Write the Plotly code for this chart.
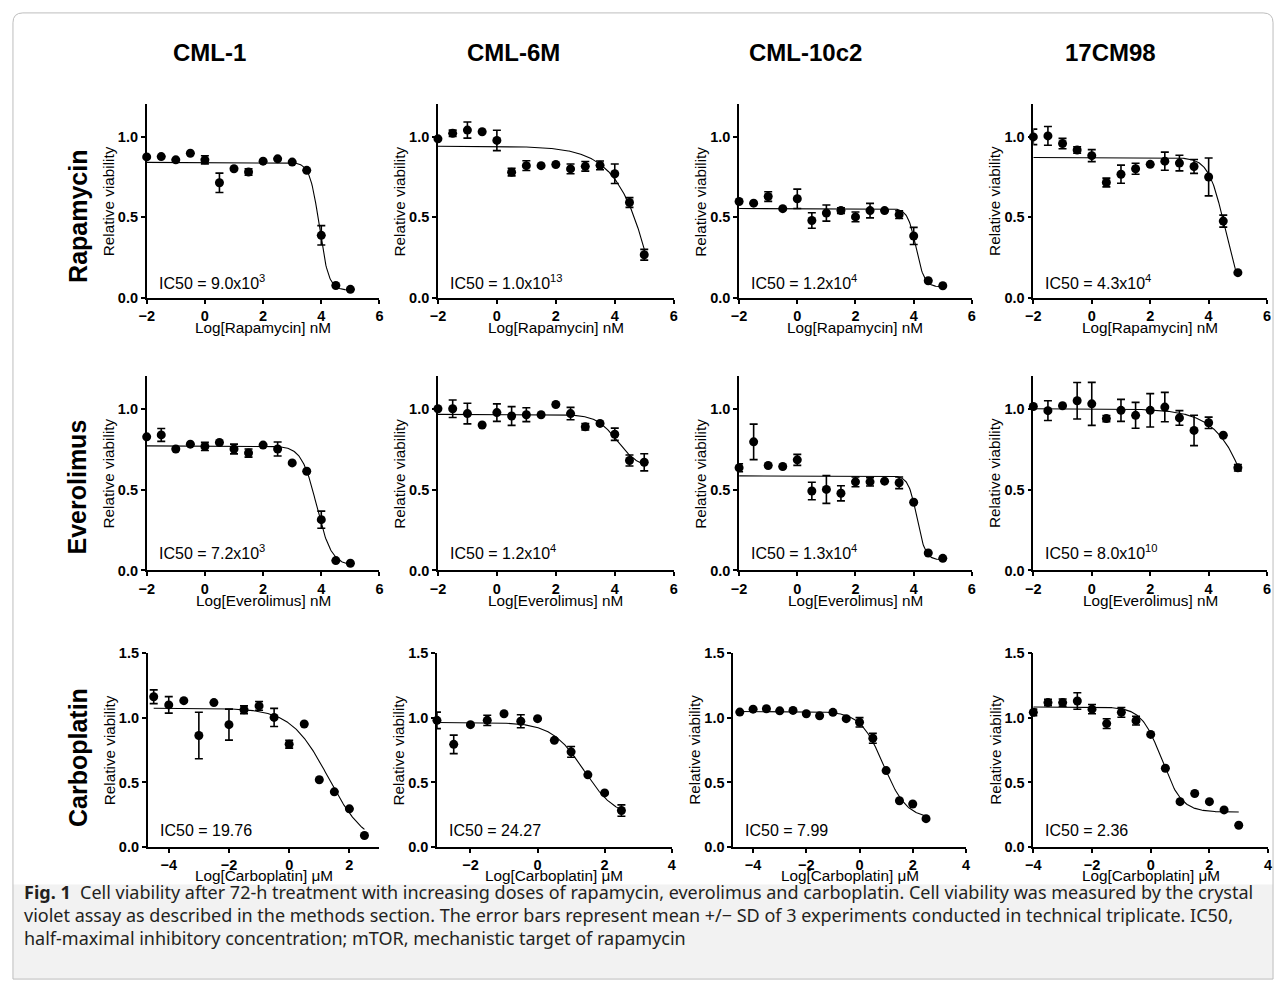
import numpy as np
import plotly.graph_objects as go

W, H = 1282, 991

cell_lines = ["CML-1", "CML-6M", "CML-10c2", "17CM98"]
drugs = ["Rapamycin", "Everolimus", "Carboplatin"]
x_titles = ["Log[Rapamycin] nM", "Log[Everolimus] nM", "Log[Carboplatin] \u03bcM"]

mtor_x = [-2, -1.5, -1, -0.5, 0, 0.5, 1, 1.5, 2, 2.5, 3, 3.5, 4, 4.5, 5]
carb_x_cml1 = [-4.5, -4, -3.5, -3, -2.5, -2, -1.5, -1, -0.5, 0, 0.5, 1, 1.5, 2, 2.5]
carb_x_cml6m = [-3, -2.5, -2, -1.5, -1, -0.5, 0, 0.5, 1, 1.5, 2, 2.5]
carb_x_cml10c2 = [-4.5, -4, -3.5, -3, -2.5, -2, -1.5, -1, -0.5, 0, 0.5, 1, 1.5, 2, 2.5]
carb_x_17cm98 = [-4, -3.5, -3, -2.5, -2, -1.5, -1, -0.5, 0, 0.5, 1, 1.5, 2, 2.5, 3]

rap_cml1_y = [0.874, 0.876, 0.856, 0.897, 0.856, 0.714, 0.801, 0.781, 0.848, 0.862, 0.842, 0.791, 0.389, 0.079, 0.055]
rap_cml1_sd = [0, 0, 0, 0, 0.025, 0.06, 0, 0.02, 0, 0, 0, 0, 0.06, 0, 0]
rap_cml6m_y = [0.986, 1.02, 1.04, 1.03, 0.976, 0.78, 0.82, 0.82, 0.827, 0.80, 0.816, 0.822, 0.77, 0.592, 0.269]
rap_cml6m_sd = [0, 0.02, 0.05, 0, 0.063, 0.023, 0.03, 0, 0, 0.03, 0.03, 0.027, 0.06, 0.03, 0.033]
rap_cml10c2_y = [0.598, 0.588, 0.629, 0.554, 0.615, 0.481, 0.527, 0.542, 0.503, 0.542, 0.542, 0.517, 0.385, 0.108, 0.077]
rap_cml10c2_sd = [0, 0, 0.03, 0, 0.06, 0.048, 0.05, 0.018, 0.03, 0.045, 0, 0.024, 0.053, 0, 0]
rap_17cm98_y = [0.998, 1.004, 0.957, 0.917, 0.882, 0.716, 0.767, 0.801, 0.828, 0.848, 0.836, 0.815, 0.750, 0.477, 0.158]
rap_17cm98_sd = [0.048, 0.058, 0.032, 0.02, 0.037, 0.027, 0.056, 0.034, 0, 0.056, 0.048, 0.043, 0.117, 0.037, 0]

eve_cml1_y = [0.826, 0.838, 0.751, 0.781, 0.767, 0.791, 0.751, 0.726, 0.775, 0.751, 0.665, 0.613, 0.314, 0.061, 0.045]
eve_cml1_sd = [0, 0.04, 0, 0, 0.025, 0, 0.03, 0.025, 0, 0.043, 0, 0, 0.053, 0, 0]
eve_cml6m_y = [1.0, 1.0, 0.970, 0.899, 0.976, 0.955, 0.963, 0.963, 1.026, 0.970, 0.888, 0.909, 0.842, 0.680, 0.669]
eve_cml6m_sd = [0, 0.054, 0.064, 0, 0.054, 0.058, 0.043, 0, 0, 0.038, 0.02, 0, 0.038, 0.034, 0.053]
eve_cml10c2_y = [0.635, 0.795, 0.649, 0.643, 0.684, 0.491, 0.501, 0.477, 0.548, 0.548, 0.552, 0.542, 0.422, 0.108, 0.075]
eve_cml10c2_sd = [0.025, 0.11, 0, 0, 0.034, 0.054, 0.086, 0.047, 0.03, 0.026, 0, 0.036, 0, 0, 0]
eve_17cm98_y = [1.014, 0.988, 1.018, 1.049, 1.030, 0.939, 0.990, 0.959, 0.990, 1.010, 0.943, 0.866, 0.913, 0.836, 0.635]
eve_17cm98_sd = [0, 0.061, 0, 0.113, 0.133, 0.019, 0.068, 0.08, 0.103, 0.091, 0.045, 0.094, 0.035, 0, 0.02]

carb_cml1_y = [1.164, 1.101, 1.134, 0.864, 1.119, 0.948, 1.063, 1.093, 1.004, 0.796, 0.953, 0.521, 0.427, 0.295, 0.089]
carb_cml1_sd = [0.053, 0.064, 0, 0.18, 0, 0.12, 0.03, 0.034, 0.07, 0.03, 0, 0, 0, 0, 0]
carb_cml6m_y = [0.981, 0.795, 0.948, 0.981, 1.032, 0.974, 0.994, 0.826, 0.737, 0.559, 0.419, 0.282]
carb_cml6m_sd = [0.064, 0.072, 0, 0.04, 0, 0.05, 0, 0, 0.042, 0, 0, 0.044]
carb_cml10c2_y = [1.045, 1.068, 1.071, 1.055, 1.058, 1.032, 1.017, 1.043, 0.994, 0.966, 0.842, 0.592, 0.358, 0.333, 0.219]
carb_cml10c2_sd = [0, 0, 0, 0, 0, 0, 0, 0, 0, 0.036, 0.038, 0, 0, 0, 0]
carb_17cm98_y = [1.043, 1.119, 1.119, 1.131, 1.068, 0.956, 1.043, 0.979, 0.872, 0.610, 0.351, 0.414, 0.351, 0.287, 0.168]
carb_17cm98_sd = [0.025, 0.025, 0.028, 0.064, 0.036, 0.038, 0.038, 0.034, 0, 0, 0, 0, 0, 0, 0]

# fitted 4-parameter logistic curves: (top, bottom, log-midpoint, hill, x start, x end)
fit_rap = [(0.84, 0.05, 3.93, 2.7, -2, 5), (0.94, -3.0, 6.3, 0.55, -2, 5),
           (0.555, 0.07, 4.08, 3.0, -2, 5), (0.87, 0.0, 4.55, 1.6, -2, 5)]
fit_eve = [(0.77, 0.03, 3.84, 1.7, -2, 5), (0.965, 0.63, 4.1, 1.2, -2, 5),
           (0.585, 0.065, 4.11, 3.0, -2, 5), (1.0, -3.0, 6.74, 0.58, -2, 5)]
fit_carb = [(1.075, 0.0, 1.30, 0.7, -4.5, 2.5), (0.965, 0.22, 1.385, 0.9, -3, 2.5),
            (1.05, 0.22, 0.903, 1.0, -4.5, 2.5), (1.085, 0.27, 0.373, 1.27, -4, 3)]

ic50_rap = ["IC50 = 9.0x10<sup>3</sup>", "IC50 = 1.0x10<sup>13</sup>", "IC50 = 1.2x10<sup>4</sup>", "IC50 = 4.3x10<sup>4</sup>"]
ic50_eve = ["IC50 = 7.2x10<sup>3</sup>", "IC50 = 1.2x10<sup>4</sup>", "IC50 = 1.3x10<sup>4</sup>", "IC50 = 8.0x10<sup>10</sup>"]
ic50_carb = ["IC50 = 19.76", "IC50 = 24.27", "IC50 = 7.99", "IC50 = 2.36"]

x_ranges_mtor = [[-2, 6]] * 4
x_ranges_carb = [[-4.7, 3.0], [-3, 4], [-4.75, 4], [-4, 4]]

caption_lines = [
    "<b>Fig. 1</b>  Cell viability after 72-h treatment with increasing doses of rapamycin, everolimus and carboplatin. Cell viability was measured by the crystal",
    "violet assay as described in the methods section. The error bars represent mean +/\u2212 SD of 3 experiments conducted in technical triplicate. IC50,",
    "half-maximal inhibitory concentration; mTOR, mechanistic target of rapamycin",
]

col_px = [[(140, 375), (434, 672), (738, 973), (1035, 1271)],
          [(140, 375), (434, 672), (738, 973), (1035, 1271)],
          [(141, 375), (433, 670), (732, 967), (1035, 1272)]]
row_px = [(97.8, 295), (374.4, 571.7), (656, 852.7)]
y_ranges = [[0, 1.2], [0, 1.2], [0, 1.5]]
y_ticks = [[0, 0.5, 1.0], [0, 0.5, 1.0], [0, 0.5, 1.0, 1.5]]
x_title_y = [325, 602, 882]
ic50_y = [278, 553, 836]
col_title_x = [203, 510, 805, 1113]
row_label_y = [212, 487, 762]
cap_y = [899, 922, 945]

def px(xp):
    return xp / W

def py(yp):
    return 1 - yp / H

FONT = "Liberation Sans, Arial, sans-serif"

data_rows = [
    [(mtor_x, rap_cml1_y, rap_cml1_sd), (mtor_x, rap_cml6m_y, rap_cml6m_sd),
     (mtor_x, rap_cml10c2_y, rap_cml10c2_sd), (mtor_x, rap_17cm98_y, rap_17cm98_sd)],
    [(mtor_x, eve_cml1_y, eve_cml1_sd), (mtor_x, eve_cml6m_y, eve_cml6m_sd),
     (mtor_x, eve_cml10c2_y, eve_cml10c2_sd), (mtor_x, eve_17cm98_y, eve_17cm98_sd)],
    [(carb_x_cml1, carb_cml1_y, carb_cml1_sd), (carb_x_cml6m, carb_cml6m_y, carb_cml6m_sd),
     (carb_x_cml10c2, carb_cml10c2_y, carb_cml10c2_sd), (carb_x_17cm98, carb_17cm98_y, carb_17cm98_sd)],
]
fits = [fit_rap, fit_eve, fit_carb]
ic50s = [ic50_rap, ic50_eve, ic50_carb]
xranges = [x_ranges_mtor, x_ranges_mtor, x_ranges_carb]

fig = go.Figure()
layout = {}
annotations = []
k = 0
for r in range(3):
    for c in range(4):
        k += 1
        xa = "x" if k == 1 else f"x{k}"
        ya = "y" if k == 1 else f"y{k}"
        xkey = "xaxis" if k == 1 else f"xaxis{k}"
        ykey = "yaxis" if k == 1 else f"yaxis{k}"
        x0, x1 = col_px[r][c]
        y0, y1 = row_px[r]
        xs, ys, sds = data_rows[r][c]
        top, bot, mid, hill, cs, ce = fits[r][c]
        xc = np.linspace(cs, ce, 300)
        yc = bot + (top - bot) / (1 + 10 ** (hill * (xc - mid)))
        fig.add_trace(go.Scatter(x=xc, y=yc, mode="lines", line=dict(color="black", width=1.1),
                                 xaxis=xa, yaxis=ya, showlegend=False, hoverinfo="skip", cliponaxis=False))
        fig.add_trace(go.Scatter(x=xs, y=ys, mode="markers",
                                 marker=dict(color="black", size=9),
                                 error_y=dict(type="data", array=sds, visible=True, color="black",
                                              thickness=1.6, width=4),
                                 xaxis=xa, yaxis=ya, showlegend=False, cliponaxis=False))
        axis_common = dict(showline=True, linecolor="black", linewidth=1.5, ticks="outside",
                           ticklen=4, tickwidth=1.5, tickcolor="black", showgrid=False, zeroline=False,
                           tickfont=dict(family=FONT, size=14.5, color="black", weight="bold"))
        layout[xkey] = dict(domain=[px(x0), px(x1)], range=xranges[r][c], anchor=ya,
                            tickmode="linear", tick0=0, dtick=2, **axis_common)
        layout[ykey] = dict(domain=[py(y1), py(y0)], range=y_ranges[r], anchor=xa,
                            tickvals=y_ticks[r], ticktext=[f"{v:.1f}" for v in y_ticks[r]], **axis_common)
        annotations.append(dict(text="Relative viability", x=px(x0 - 39), y=py((y0 + y1) / 2),
                                xref="paper", yref="paper", showarrow=False, textangle=-90,
                                xanchor="center", yanchor="middle",
                                font=dict(family=FONT, size=15.3, color="black")))
        annotations.append(dict(text=x_titles[r], x=px((x0 + x1) / 2), y=py(x_title_y[r]),
                                xref="paper", yref="paper", showarrow=False,
                                xanchor="center", yanchor="middle",
                                font=dict(family=FONT, size=15.3, color="black")))
        annotations.append(dict(text=ic50s[r][c], x=px(x0 + 10), y=py(ic50_y[r]),
                                xref="paper", yref="paper", showarrow=False,
                                xanchor="left", yanchor="middle",
                                font=dict(family=FONT, size=16, color="black")))

for c, name in enumerate(cell_lines):
    annotations.append(dict(text=f"<b>{name}</b>", x=px(col_title_x[c]), y=py(45), xref="paper", yref="paper",
                            showarrow=False, xanchor="center", yanchor="middle",
                            font=dict(family=FONT, size=24, color="black")))
for r, name in enumerate(drugs):
    annotations.append(dict(text=f"<b>{name}</b>", x=px(70), y=py(row_label_y[r]), xref="paper", yref="paper",
                            showarrow=False, textangle=-90, xanchor="center", yanchor="middle",
                            font=dict(family=FONT, size=25, color="black")))

for i, line in enumerate(caption_lines):
    annotations.append(dict(text=line, x=px(14), y=py(cap_y[i]), xref="paper", yref="paper",
                            showarrow=False, xanchor="left", yanchor="middle",
                            font=dict(family="Noto Sans, Open Sans, sans-serif", size=18, color="#231f20")))

shapes = [
    dict(type="rect", xref="paper", yref="paper", x0=px(5), x1=px(1277), y0=py(987), y1=py(891),
         fillcolor="#f2f2f2", line=dict(width=0), layer="below"),
    dict(type="path", xref="paper", yref="paper",
         path=f"M {px(15)},{py(5)} L {px(1267)},{py(5)} Q {px(1277)},{py(5)} {px(1277)},{py(15)} "
              f"L {px(1277)},{py(987)} L {px(5)},{py(987)} L {px(5)},{py(15)} Q {px(5)},{py(5)} {px(15)},{py(5)} Z",
         line=dict(color="#bdbdbd", width=1), layer="below"),
]

fig.update_layout(width=W, height=H, margin=dict(l=0, r=0, t=0, b=0), paper_bgcolor="white",
                  plot_bgcolor="rgba(0,0,0,0)", showlegend=False, annotations=annotations, shapes=shapes,
                  **layout)

post = (
    "document.documentElement.style.margin='0';document.body.style.margin='0';"
    "document.documentElement.style.overflow='hidden';document.body.style.overflow='hidden';"
)
fig.write_html("out.html", config={"displayModeBar": False}, post_script=post)
